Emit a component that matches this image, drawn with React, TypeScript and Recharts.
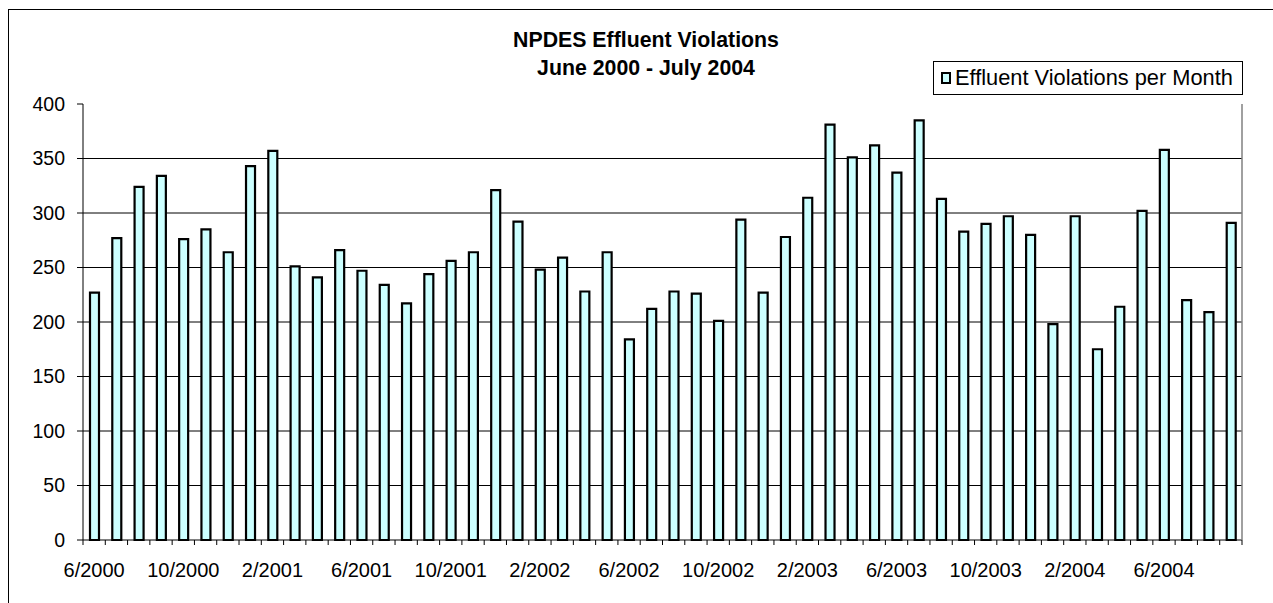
import { Bar, BarChart, CartesianGrid, Legend, XAxis, YAxis } from "recharts";

const MONTHS = [
  "6/2000", "7/2000", "8/2000", "9/2000", "10/2000", "11/2000", "12/2000",
  "1/2001", "2/2001", "3/2001", "4/2001", "5/2001", "6/2001", "7/2001",
  "8/2001", "9/2001", "10/2001", "11/2001", "12/2001",
  "1/2002", "2/2002", "3/2002", "4/2002", "5/2002", "6/2002", "7/2002",
  "8/2002", "9/2002", "10/2002", "11/2002", "12/2002",
  "1/2003", "2/2003", "3/2003", "4/2003", "5/2003", "6/2003", "7/2003",
  "8/2003", "9/2003", "10/2003", "11/2003", "12/2003",
  "1/2004", "2/2004", "3/2004", "4/2004", "5/2004", "6/2004", "7/2004",
  "8/2004", "9/2004",
];

const VIOLATIONS = [
  227, 277, 324, 334, 276, 285, 264,
  343, 357, 251, 241, 266, 247, 234,
  217, 244, 256, 264, 321,
  292, 248, 259, 228, 264, 184, 212,
  228, 226, 201, 294, 227,
  278, 314, 381, 351, 362, 337, 385,
  313, 283, 290, 297, 280,
  198, 297, 175, 214, 302, 358, 220,
  209, 291,
];

const Y_TICKS = [0, 50, 100, 150, 200, 250, 300, 350, 400];
const GRID_VALUES = [50, 100, 150, 200, 250, 300, 350];

const SERIES_NAME = "Effluent Violations per Month";
const FONT = '"Liberation Sans", Arial, sans-serif';
const BAR_FILL = "#CCFFFF";

const CHART_W = 1273;
const CHART_H = 603;
const MARGIN = { top: 104, right: 30, bottom: 23, left: 8 };
const Y_AXIS_W = 75;
const RIGHT_AXIS_W = 1;
const X_AXIS_H = 40;
const PLOT_W = CHART_W - MARGIN.left - Y_AXIS_W - MARGIN.right - RIGHT_AXIS_W;

function MonthTick(props: any) {
  const { x, y, payload, index } = props;
  const half = payload?.offset || PLOT_W / MONTHS.length / 2;
  const isLast = index === MONTHS.length - 1;
  return (
    <g>
      <line x1={x - half} x2={x - half} y1={y} y2={y + 5} stroke="#000" />
      {isLast && <line x1={x + half} x2={x + half} y1={y} y2={y + 5} stroke="#000" />}
      {index % 4 === 0 && (
        <text x={x} y={y + 37} textAnchor="middle" fill="#000" fontSize={20} fontFamily={FONT}>
          {payload.value}
        </text>
      )}
    </g>
  );
}

function LegendBox() {
  return (
    <div
      style={{
        width: 310,
        height: 34,
        boxSizing: "border-box",
        border: "1px solid #000",
        background: "#fff",
        display: "flex",
        alignItems: "center",
        paddingLeft: 7,
        fontFamily: FONT,
        fontSize: 21.8,
        color: "#000",
        whiteSpace: "nowrap",
      }}
    >
      <span
        style={{
          display: "inline-block",
          width: 10,
          height: 12,
          boxSizing: "border-box",
          border: "2px solid #000",
          background: BAR_FILL,
          marginRight: 4,
        }}
      />
      {SERIES_NAME}
    </div>
  );
}

export default function App() {
  const data = MONTHS.map((month, i) => ({ month, violations: VIOLATIONS[i] }));

  return (
    <div
      style={{
        position: "absolute",
        left: 0,
        top: 0,
        width: CHART_W,
        height: CHART_H,
        overflow: "hidden",
        background: "#fff",
        fontFamily: FONT,
      }}
    >
      <div
        style={{
          position: "absolute",
          left: 8,
          top: 9,
          width: 1276,
          height: 640,
          border: "1px solid #000",
          boxSizing: "border-box",
        }}
      />
      <div
        style={{
          position: "absolute",
          left: 8,
          top: 26,
          width: 1276,
          textAlign: "center",
          fontWeight: "bold",
          fontSize: 21.3,
          lineHeight: "28px",
          color: "#000",
        }}
      >
        <div>NPDES Effluent Violations</div>
        <div>June 2000 - July 2004</div>
      </div>
      <BarChart
        width={CHART_W}
        height={CHART_H}
        data={data}
        margin={MARGIN}
        style={{ position: "absolute", left: 0, top: 0 }}
      >
        <CartesianGrid
          horizontal
          vertical={false}
          stroke="#000"
          horizontalValues={GRID_VALUES}
        />
        <XAxis
          dataKey="month"
          interval={0}
          height={X_AXIS_H}
          tickSize={0}
          tickMargin={0}
          tickLine={false}
          axisLine={{ stroke: "#000" }}
          tick={<MonthTick />}
        />
        <XAxis
          xAxisId="top"
          dataKey="month"
          orientation="top"
          height={0}
          tick={false}
          tickLine={false}
          axisLine={{ stroke: "#808080", strokeWidth: 1.5 }}
        />
        <YAxis
          domain={[0, 400]}
          ticks={Y_TICKS}
          width={Y_AXIS_W}
          tickSize={6}
          tickMargin={12}
          interval={0}
          axisLine={{ stroke: "#000" }}
          tickLine={{ stroke: "#000" }}
          tick={{ fill: "#000", fontSize: 19.5, fontFamily: FONT }}
        />
        <YAxis
          yAxisId="right"
          orientation="right"
          domain={[0, 400]}
          width={RIGHT_AXIS_W}
          tick={false}
          tickLine={false}
          axisLine={{ stroke: "#808080", strokeWidth: 1.5 }}
        />
        <Legend
          layout="vertical"
          align="center"
          verticalAlign="middle"
          content={() => <LegendBox />}
          wrapperStyle={{ position: "absolute", left: 933, top: 61, width: 310, height: 34 }}
        />
        <Bar
          dataKey="violations"
          name={SERIES_NAME}
          fill={BAR_FILL}
          stroke="#000"
          strokeWidth={2.2}
          barSize={9}
          isAnimationActive={false}
        />
      </BarChart>
    </div>
  );
}
